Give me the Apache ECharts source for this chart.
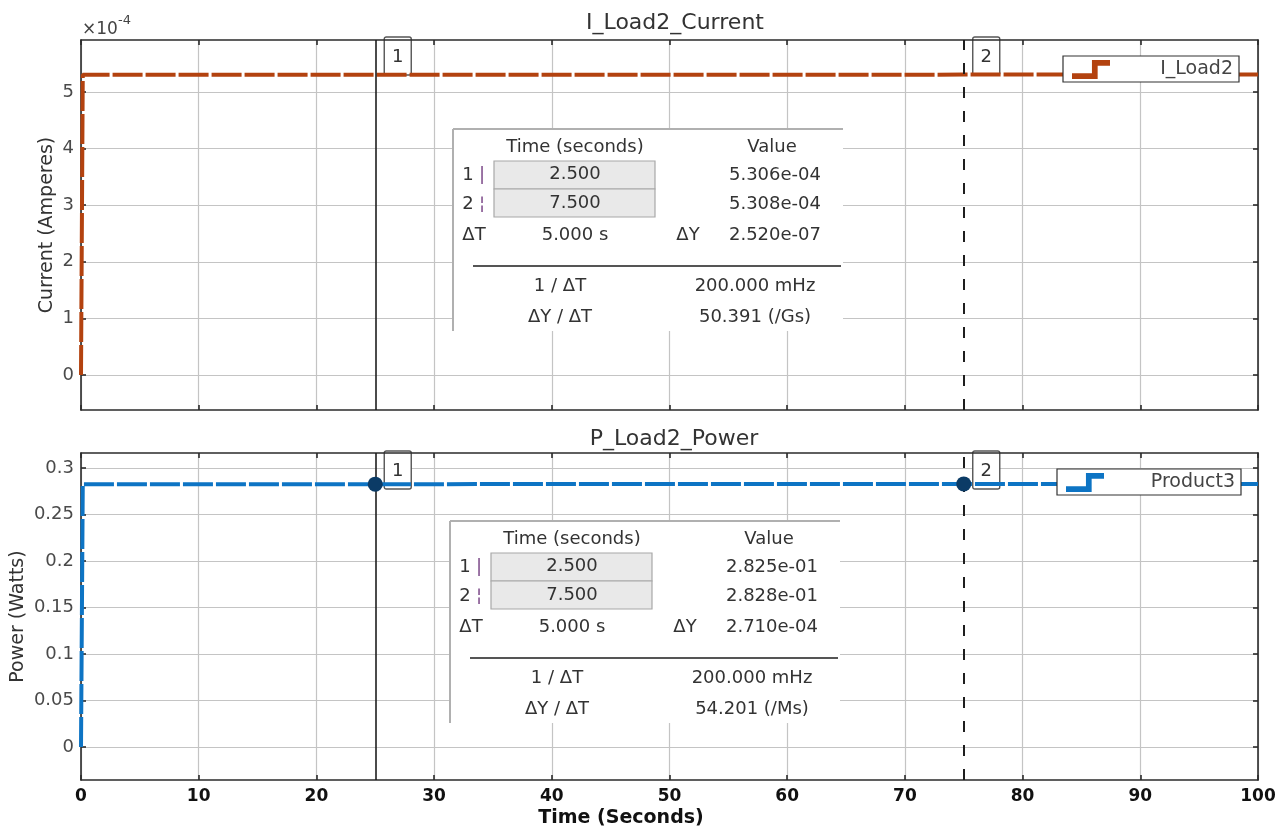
<!DOCTYPE html>
<html>
<head>
<meta charset="utf-8">
<script src="https://cdn.jsdelivr.net/npm/echarts@6/dist/echarts.min.js"></script>
<style>
  html, body { margin: 0; padding: 0; background: #fff; }
  #chart { width: 1278px; height: 831px; }
</style>
</head>
<body>
<div id="chart"></div>
<script>
// ---- data ----
const timeI = [0, 0.15, 25, 75, 100];
const iLoad2 = [0, 5.306e-4, 5.306e-4, 5.308e-4, 5.308e-4];
const timeP = [0, 0.15, 25, 75, 100];
const product3 = [0, 0.2825, 0.2825, 0.2828, 0.2828];

const cursorTimes = [25, 75];
const cursorCurrent = [5.306e-4, 5.308e-4];
const cursorPower = [0.2825, 0.2828];

const xTicks = [0, 10, 20, 30, 40, 50, 60, 70, 80, 90, 100];
const currentTicks = [0, 1e-4, 2e-4, 3e-4, 4e-4, 5e-4];
const powerTicks = [0, 0.05, 0.1, 0.15, 0.2, 0.25, 0.3];

// measurement panel text
const tableCurrent = {
  t1: '2.500', t2: '7.500', v1: '5.306e-04', v2: '5.308e-04',
  dT: '5.000 s', dY: '2.520e-07', invDT: '200.000 mHz', slope: '50.391 (/Gs)'
};
const tablePower = {
  t1: '2.500', t2: '7.500', v1: '2.825e-01', v2: '2.828e-01',
  dT: '5.000 s', dY: '2.710e-04', invDT: '200.000 mHz', slope: '54.201 (/Ms)'
};

const FONT = '"DejaVu Sans", "Liberation Sans", sans-serif';
const ORANGE = '#b3420f';
const BLUE = '#0d74c4';

const zipPts = (xs, ys) => xs.map((x, i) => [x, ys[i]]);

const chart = echarts.init(document.getElementById('chart'));

function boxXAxis(gridIndex, pos, showLabels) {
  return {
    type: 'value', gridIndex, position: pos, min: 0, max: 100, interval: 10,
    axisLine: { show: true, onZero: false, lineStyle: { color: '#2b2b2b', width: 1.6 } },
    axisTick: { show: true, inside: true, length: 5, customValues: xTicks, lineStyle: { color: '#2b2b2b', width: 1.6 } },
    axisLabel: showLabels ? {
      show: true, customValues: xTicks, color: '#111', fontWeight: 'bold', fontSize: 17, fontFamily: FONT, margin: 8
    } : { show: false },
    splitLine: pos === 'bottom' ? { show: true, lineStyle: { color: '#c4c4c4', width: 1.2 } } : { show: false }
  };
}

function boxYAxis(gridIndex, pos, min, max, ticks, fmt, name, nameGap) {
  return {
    type: 'value', gridIndex, position: pos, min, max,
    name: name || '', nameLocation: 'middle', nameGap: nameGap || 0, nameMoveOverlap: false,
    nameTextStyle: { color: '#333', fontSize: 19, fontFamily: FONT },
    axisLine: { show: true, onZero: false, lineStyle: { color: '#2b2b2b', width: 1.6 } },
    axisTick: { show: true, inside: true, length: 5, customValues: ticks, lineStyle: { color: '#2b2b2b', width: 1.6 } },
    axisLabel: pos === 'left' ? {
      show: true, customValues: ticks, formatter: fmt, color: '#4a4a4a', fontSize: 18, fontFamily: FONT, margin: 7
    } : { show: false },
    splitLine: pos === 'left' ? { show: true, lineStyle: { color: '#c4c4c4', width: 1.2 } } : { show: false }
  };
}

const cursorMarkLine = {
  silent: true, symbol: 'none', label: { show: false },
  data: [
    { xAxis: cursorTimes[0], lineStyle: { color: '#1e1e1e', width: 1.6, type: 'solid' } },
    { xAxis: cursorTimes[1], lineStyle: { color: '#1e1e1e', width: 2, type: [11, 13] } }
  ]
};

function legendBox(name, top, left, w) {
  return {
    data: [name], top, left, orient: 'horizontal',
    padding: [4, 6, 3, 9], itemWidth: 38, itemHeight: 21,
    backgroundColor: '#fff', borderColor: '#333', borderWidth: 1.2, borderRadius: 0,
    icon: 'path://M0,15 L21,15 L21,1 L40,1 L40,7 L27,7 L27,21 L0,21 Z',
    selectedMode: false,
    formatter: n => '{a|' + n + '}',
    textStyle: { rich: { a: { width: w, align: 'right', fontSize: 19, color: '#444', fontFamily: FONT } } }
  };
}

const option = {
  animation: false,
  backgroundColor: '#fff',
  title: [
    { text: 'I_Load2_Current', left: 670, top: 7, textAlign: 'center',
      textStyle: { fontSize: 22, fontWeight: 'normal', color: '#333', fontFamily: FONT } },
    { text: 'P_Load2_Power', left: 669, top: 423, textAlign: 'center',
      textStyle: { fontSize: 22, fontWeight: 'normal', color: '#333', fontFamily: FONT } }
  ],
  legend: [
    legendBox('I_Load2', 56, 1063, 118),
    legendBox('Product3', 469, 1057, 126)
  ],
  grid: [
    { left: 81, right: 20, top: 40, height: 370, outerBoundsMode: 'none' },
    { left: 81, right: 20, top: 453, height: 327, outerBoundsMode: 'none' }
  ],
  xAxis: [
    boxXAxis(0, 'bottom', false),
    boxXAxis(0, 'top', false),
    boxXAxis(1, 'bottom', true),
    boxXAxis(1, 'top', false)
  ],
  yAxis: [
    boxYAxis(0, 'left', -0.62e-4, 5.92e-4, currentTicks, v => String(Math.round(v * 1e4)), 'Current (Amperes)', 24),
    boxYAxis(0, 'right', -0.62e-4, 5.92e-4, currentTicks, null),
    boxYAxis(1, 'left', -0.0355, 0.316, powerTicks, v => String(+v.toFixed(2)), 'Power (Watts)', 53),
    boxYAxis(1, 'right', -0.0355, 0.316, powerTicks, null)
  ],
  series: [
    {
      name: 'I_Load2', type: 'line', xAxisIndex: 0, yAxisIndex: 0,
      data: zipPts(timeI, iLoad2), showSymbol: false, color: ORANGE,
      lineStyle: { color: ORANGE, width: 4, type: [30, 3] },
      markLine: cursorMarkLine
    },
    {
      name: 'Product3', type: 'line', xAxisIndex: 2, yAxisIndex: 2,
      data: zipPts(timeP, product3), showSymbol: false, color: BLUE,
      lineStyle: { color: BLUE, width: 4, type: [30, 3] },
      markLine: cursorMarkLine,
      markPoint: {
        symbol: 'circle', symbolSize: 15, silent: true, label: { show: false },
        itemStyle: { color: '#0b3b66' },
        data: cursorTimes.map((t, i) => ({ coord: [t, cursorPower[i]] }))
      }
    }
  ]
};

chart.setOption(option);

// ---- overlays: cursor tags, measurement panels, exponent, axis title ----
function cursorTag(label, px, topY) {
  return {
    type: 'group', z: 60, x: px + 9, y: topY,
    children: [
      { type: 'rect', shape: { x: 0, y: 0, width: 27, height: 38, r: 2 },
        style: { fill: '#fff', stroke: '#555', lineWidth: 1.4 } },
      { type: 'text', x: 13.5, y: 20,
        style: { text: label, fill: '#333', font: '18px ' + FONT, textAlign: 'center', textVerticalAlign: 'middle' } }
    ]
  };
}

function panel(ox, oy, d) {
  const txt = (x, y, s, align, color) => ({
    type: 'text', x, y,
    style: { text: s, fill: color || '#333', font: '18px ' + FONT, textAlign: align || 'center', textVerticalAlign: 'middle' }
  });
  return {
    type: 'group', x: ox, y: oy, z: 50,
    children: [
      { type: 'rect', shape: { x: 0, y: 0, width: 390, height: 202 }, style: { fill: '#fff' } },
      { type: 'line', shape: { x1: 0, y1: 0, x2: 390, y2: 0 }, style: { stroke: '#b0b0b0', lineWidth: 2 } },
      { type: 'line', shape: { x1: 0, y1: 0, x2: 0, y2: 202 }, style: { stroke: '#b0b0b0', lineWidth: 2 } },
      txt(122, 18, 'Time (seconds)'),
      txt(319, 18, 'Value'),
      { type: 'rect', shape: { x: 41, y: 32, width: 161, height: 28 }, style: { fill: '#e9e9e9', stroke: '#a8a8a8', lineWidth: 1.2 } },
      { type: 'rect', shape: { x: 41, y: 60, width: 161, height: 28 }, style: { fill: '#e9e9e9', stroke: '#a8a8a8', lineWidth: 1.2 } },
      txt(15, 46, '1'), txt(29, 46, '|', 'center', '#7d4a8a'),
      txt(15, 75, '2'), txt(29, 75, '¦', 'center', '#7d4a8a'),
      txt(122, 45, d.t1), txt(122, 74, d.t2),
      txt(322, 46, d.v1), txt(322, 75, d.v2),
      txt(21, 106, 'ΔT'), txt(122, 106, d.dT), txt(235, 106, 'ΔY'), txt(322, 106, d.dY),
      { type: 'line', shape: { x1: 20, y1: 137, x2: 388, y2: 137 }, style: { stroke: '#555', lineWidth: 2 } },
      txt(107, 157, '1 / ΔT'), txt(302, 157, d.invDT),
      txt(107, 188, 'ΔY / ΔT'), txt(302, 188, d.slope)
    ]
  };
}

const topY0 = chart.convertToPixel({ gridIndex: 0 }, [0, 5.92e-4])[1];
const topY1 = chart.convertToPixel({ gridIndex: 1 }, [0, 0.316])[1];
const tagsTop = cursorTimes.map((t, i) =>
  cursorTag(String(i + 1), chart.convertToPixel({ gridIndex: 0 }, [t, 0])[0], topY0 - 3));
const tagsBottom = cursorTimes.map((t, i) =>
  cursorTag(String(i + 1), chart.convertToPixel({ gridIndex: 1 }, [t, 0])[0], topY1 - 2));

chart.setOption({
  graphic: [
    ...tagsTop, ...tagsBottom,
    panel(453, 129, tableCurrent),
    panel(450, 521, tablePower),
    { type: 'text', x: 82, y: 30, z: 50,
      style: { text: '×10', fill: '#444', font: '17px ' + FONT, textVerticalAlign: 'middle' } },
    { type: 'text', x: 118, y: 21, z: 50,
      style: { text: '-4', fill: '#444', font: '13px ' + FONT, textVerticalAlign: 'middle' } },
    { type: 'text', x: 621, y: 818, z: 50,
      style: { text: 'Time (Seconds)', fill: '#111', font: 'bold 19px ' + FONT, textAlign: 'center', textVerticalAlign: 'middle' } }
  ]
});
</script>
</body>
</html>
